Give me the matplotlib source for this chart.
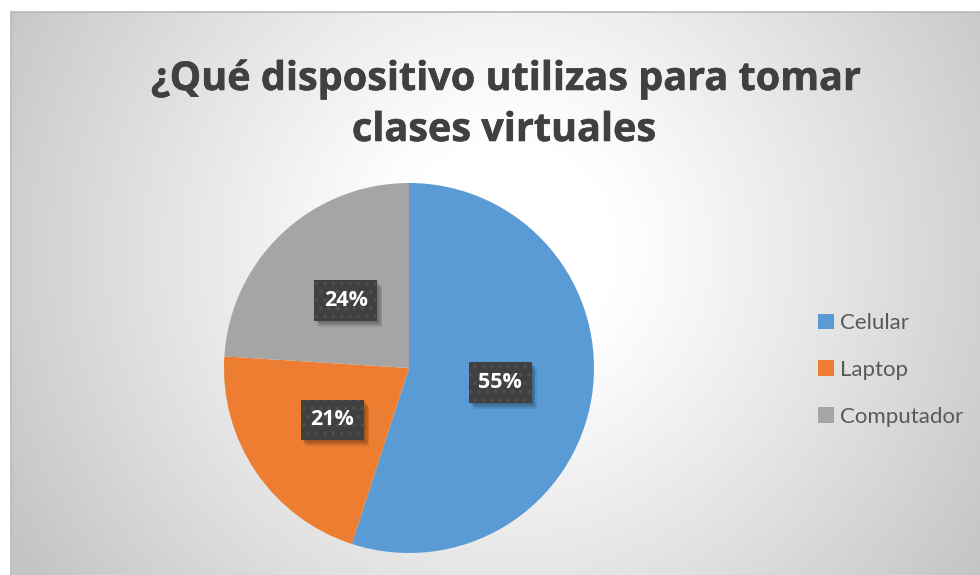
import numpy as np
import matplotlib
matplotlib.use("Agg")
import matplotlib.pyplot as plt
import matplotlib.patheffects as pe

# ---- data ----
title_lines = ["¿Qué dispositivo utilizas para tomar", "clases virtuales"]
categories = ["Celular", "Laptop", "Computador"]
values = [55, 21, 24]
colors = ["#5B9BD5", "#ED7D31", "#A5A5A5"]

plt.rcParams['font.family'] = ['Open Sans', 'DejaVu Sans']
plt.rcParams['hatch.linewidth'] = 1.5

W, H = 980, 575
fig = plt.figure(figsize=(W / 100, H / 100), dpi=100)
fig.patch.set_facecolor('white')

# ---- background radial gradient inside chart frame ----
x0, y0 = 11, 12
bg = fig.add_axes([x0 / W, 0, 1 - x0 / W, 1 - y0 / H], zorder=-5)
gx = np.arange(x0, W)
gy = np.arange(y0, H)
X, Y = np.meshgrid(gx, gy)
cx, cy = 505, 250
d = np.sqrt((X - cx) ** 2 + (Y - cy) ** 2)
t = np.clip((d - 110) / 460, 0, 1)
v = 1 - 0.23 * t ** 1.1
img = np.dstack([v, v, v])
bg.imshow(img, extent=[0, 1, 0, 1], aspect='auto', interpolation='bilinear')
bg.set_xlim(0, 1)
bg.set_ylim(0, 1)
bg.axis('off')
fig.add_artist(plt.Line2D([x0 / W, 1], [1 - y0 / H, 1 - y0 / H], color='#b8b8b8', lw=1.2))
fig.add_artist(plt.Line2D([x0 / W, x0 / W], [0, 1 - y0 / H], color='#b8b8b8', lw=1.2))

# ---- title ----
title_fx = [pe.withStroke(linewidth=0.4, foreground='#404040')]
fig.text(506 / W, 1 - 90 / H, title_lines[0], ha='center', va='baseline',
         fontsize=28.5, fontweight='bold', color='#404040', path_effects=title_fx)
fig.text(504 / W, 1 - 141 / H, title_lines[1], ha='center', va='baseline',
         fontsize=28.5, fontweight='bold', color='#404040', path_effects=title_fx)

# ---- pie ----
pcx, pcy, r = 409, 368, 185
ax = fig.add_axes([(pcx - r) / W, (H - pcy - r) / H, 2 * r / W, 2 * r / H])
ax.patch.set_alpha(0)
wedges, texts, autotexts = ax.pie(values, colors=colors, startangle=90, counterclock=False,
                                  radius=1, autopct='%1.0f%%', pctdistance=0.5,
                                  wedgeprops=dict(linewidth=0))
ax.set_xlim(-1, 1)
ax.set_ylim(-1, 1)
ax.axis('off')
for at in autotexts:
    at.set_color('white')
    at.set_fontsize(15.5)
    at.set_fontweight('bold')
    at.set_bbox(dict(boxstyle='square,pad=0.45', fc='#404040', ec='#4f4f4f', lw=0, hatch='..'))
    at.get_bbox_patch().set_path_effects([
        pe.SimplePatchShadow(offset=(1.5, -1.5), shadow_rgbFace='black', alpha=0.12, hatch=None),
        pe.SimplePatchShadow(offset=(2.5, -3), shadow_rgbFace='black', alpha=0.12, hatch=None),
        pe.SimplePatchShadow(offset=(3.5, -4.5), shadow_rgbFace='black', alpha=0.10, hatch=None),
        pe.Normal()])

# ---- legend ----
leg = fig.legend(wedges, categories, loc='center left',
                 bbox_to_anchor=(818 / W, 1 - 370 / H), frameon=False,
                 prop={'family': 'Lato', 'size': 16}, handlelength=0.7, handleheight=0.7,
                 handletextpad=0.3, labelspacing=1.2, borderpad=0, borderaxespad=0)
for txt in leg.get_texts():
    txt.set_color('#595959')

fig.savefig('out.png', dpi=100)
